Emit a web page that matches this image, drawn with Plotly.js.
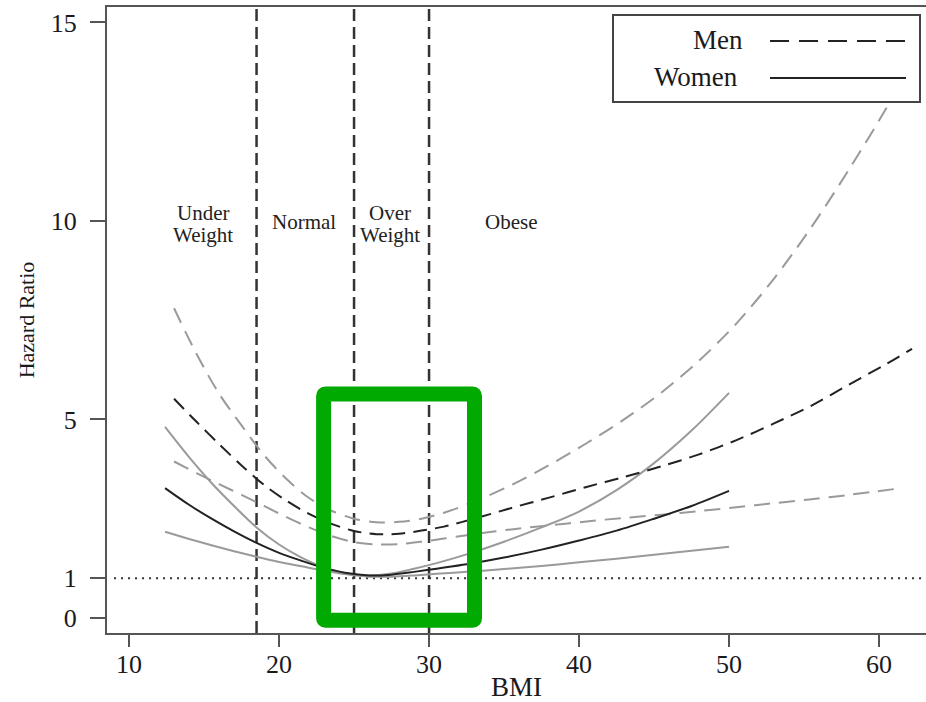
<!DOCTYPE html>
<html>
<head>
<meta charset="utf-8">
<script src="https://cdn.plot.ly/plotly-3.0.1.min.js"></script>
<style>html,body{margin:0;padding:0;background:#fff;}#chart{width:926px;height:702px;}</style>
</head>
<body>
<div id="chart"></div>
<script>
// Men: BMI grid, hazard ratio and confidence band
const bmiMen = [13, 14.5, 16, 17.5, 19, 20.5, 22, 23.5, 25, 26.5, 28, 29.5, 31, 33, 35.5, 38, 40.5, 43, 45.5, 48, 50.5, 53, 55.5, 58, 60.5, 62.2];
const menHR = [5.52, 4.94, 4.38, 3.84, 3.35, 2.95, 2.62, 2.37, 2.19, 2.11, 2.12, 2.2, 2.3, 2.5, 2.77, 3.03, 3.3, 3.55, 3.82, 4.12, 4.48, 4.9, 5.35, 5.88, 6.4, 6.78];
const menUpper = [7.8, 6.65, 5.65, 4.85, 4.1, 3.5, 3.02, 2.7, 2.5, 2.41, 2.42, 2.5, 2.65, 2.93, 3.35, 3.85, 4.4, 5.0, 5.68, 6.48, 7.42, 8.55, 9.85, 11.3, 12.85, 14.0];
const bmiMenLower = [13, 14.5, 16, 17.5, 19, 20.5, 22, 23.5, 25, 26.5, 28, 29.5, 31, 33, 35.5, 38, 40.5, 43, 45.5, 48, 50.5, 53, 55.5, 58, 61.5];
const menLower = [3.94, 3.65, 3.37, 3.1, 2.82, 2.54, 2.28, 2.06, 1.91, 1.85, 1.86, 1.92, 2.0, 2.11, 2.23, 2.33, 2.43, 2.52, 2.6, 2.69, 2.79, 2.89, 2.99, 3.1, 3.27];

// Women
const bmiWomen = [12.4, 14, 15.5, 17, 18.5, 20, 21.5, 23, 24.5, 26, 27.5, 29, 30.5, 32.5, 35, 37.5, 40, 42.5, 45, 47.5, 50];
const womenHR = [3.27, 2.85, 2.5, 2.18, 1.89, 1.64, 1.44, 1.26, 1.13, 1.07, 1.09, 1.16, 1.24, 1.35, 1.52, 1.72, 1.95, 2.2, 2.5, 2.82, 3.2];
const womenUpper = [4.81, 4.05, 3.4, 2.82, 2.28, 1.85, 1.52, 1.27, 1.12, 1.07, 1.12, 1.24, 1.38, 1.6, 1.92, 2.28, 2.68, 3.22, 3.9, 4.72, 5.67];
const womenLower = [2.17, 1.99, 1.83, 1.68, 1.54, 1.41, 1.3, 1.19, 1.1, 1.04, 1.04, 1.07, 1.11, 1.16, 1.23, 1.31, 1.4, 1.49, 1.59, 1.69, 1.79];

// BMI category cut-offs, labels, axis ticks
const cutoffs = [18.5, 25, 30];
const categoryLabels = [
  {lines: ["Under", "Weight"], x: 14.93},
  {lines: ["Normal"], x: 21.67},
  {lines: ["Over", "Weight"], x: 27.4},
  {lines: ["Obese"], x: 35.47}
];
const xTicks = [10, 20, 30, 40, 50, 60];
const yTicks = [0, 1, 5, 10, 15];
const referenceHR = 1;
const legendNames = ["Men", "Women"];

const DARK = '#222222', GRAY = '#9a9a9a';
const FONT = 'Liberation Serif, Times New Roman, serif';

function line(x, y, color, dash) {
  return {x: x, y: y, type: 'scatter', mode: 'lines', showlegend: false, hoverinfo: 'skip',
    line: {color: color, width: 2, dash: dash, shape: 'spline', smoothing: 0.9}};
}

const traces = [
  line(bmiWomen, womenUpper, GRAY, 'solid'),
  line(bmiWomen, womenLower, GRAY, 'solid'),
  line(bmiMen, menUpper, GRAY, '16px,9px'),
  line(bmiMenLower, menLower, GRAY, '16px,9px'),
  Object.assign(line(bmiWomen, womenHR, DARK, 'solid'), {name: legendNames[1]}),
  Object.assign(line(bmiMen, menHR, DARK, '14px,8px'), {name: legendNames[0]})
];

const shapes = [];
cutoffs.forEach(c => shapes.push({type: 'line', xref: 'x', yref: 'paper', x0: c, x1: c, y0: 0, y1: 1,
  line: {color: '#333', width: 2.5, dash: '12px,6px'}, layer: 'below'}));
shapes.push({type: 'line', xref: 'x', yref: 'y', x0: 9.0, x1: 63.2, y0: referenceHR, y1: referenceHR,
  line: {color: '#333', width: 2, dash: '2px,5px'}, layer: 'below'});

// highlight box
(function(){
  const x0 = 22.97, x1 = 33.03, y0 = -0.06, y1 = 5.64, rx = 0.12, ry = 0.05;
  const p = `M ${x0+rx},${y1} L ${x1-rx},${y1} Q ${x1},${y1} ${x1},${y1-ry} L ${x1},${y0+ry} Q ${x1},${y0} ${x1-rx},${y0} L ${x0+rx},${y0} Q ${x0},${y0} ${x0},${y0+ry} L ${x0},${y1-ry} Q ${x0},${y1} ${x0+rx},${y1} Z`;
  shapes.push({type: 'path', xref: 'x', yref: 'y', path: p, line: {color: '#00AA00', width: 15}, layer: 'above'});
})();

// legend box (pixel positions converted to paper coords)
const L = 107, T = 7, W = 819, H = 626;
const px = v => (v - L) / W, py = v => 1 - (v - T) / H;
shapes.push({type: 'rect', xref: 'paper', yref: 'paper', x0: px(613), x1: px(920), y0: py(102), y1: py(15),
  fillcolor: '#ffffff', line: {color: '#444', width: 2}, layer: 'above'});
shapes.push({type: 'line', xref: 'paper', yref: 'paper', x0: px(770), x1: px(906), y0: py(41), y1: py(41),
  line: {color: DARK, width: 2, dash: '19px,10px'}, layer: 'above'});
shapes.push({type: 'line', xref: 'paper', yref: 'paper', x0: px(770), x1: px(906), y0: py(78), y1: py(78),
  line: {color: DARK, width: 2}, layer: 'above'});

const annotations = [];
annotations.push({xref: 'paper', yref: 'paper', x: px(745), y: py(40), xanchor: 'right', yanchor: 'middle',
  text: legendNames[0], showarrow: false, font: {family: FONT, size: 27, color: '#1a1a1a'}});
annotations.push({xref: 'paper', yref: 'paper', x: px(740), y: py(77), xanchor: 'right', yanchor: 'middle',
  text: legendNames[1], showarrow: false, font: {family: FONT, size: 27, color: '#1a1a1a'}});

const yOf = pyv => (618 - pyv) / 39.7;
categoryLabels.forEach(c => {
  if (c.lines.length === 2) {
    annotations.push({x: c.x, y: yOf(213), text: c.lines[0], showarrow: false, xanchor: 'center', yanchor: 'middle',
      font: {family: FONT, size: 21, color: '#222'}});
    annotations.push({x: c.x, y: yOf(235), text: c.lines[1], showarrow: false, xanchor: 'center', yanchor: 'middle',
      font: {family: FONT, size: 21, color: '#222'}});
  } else {
    annotations.push({x: c.x, y: yOf(222), text: c.lines[0], showarrow: false, xanchor: 'center', yanchor: 'middle',
      font: {family: FONT, size: 21, color: '#222'}});
  }
});

const layout = {
  width: 926, height: 702,
  margin: {l: 107, r: 0, t: 7, b: 69},
  paper_bgcolor: '#fff', plot_bgcolor: '#fff',
  font: {family: FONT, color: '#1a1a1a'},
  showlegend: false,
  xaxis: {
    range: [8.53, 63.13], tickvals: xTicks, ticktext: xTicks.map(String),
    ticks: 'outside', ticklen: 12, tickwidth: 2, tickcolor: '#555',
    showline: true, linecolor: '#555', linewidth: 2, mirror: true,
    showgrid: false, zeroline: false,
    tickfont: {family: FONT, size: 26, color: '#1a1a1a'},
    ticklabelstandoff: -5,
    title: {text: 'BMI', font: {family: FONT, size: 27, color: '#1a1a1a'}, standoff: 6}
  },
  yaxis: {
    range: [-0.38, 15.39], tickvals: yTicks, ticktext: yTicks.map(String),
    ticks: 'outside', ticklen: 15, tickwidth: 2, tickcolor: '#555',
    showline: true, linecolor: '#555', linewidth: 2, mirror: false,
    showgrid: false, zeroline: false,
    tickfont: {family: FONT, size: 26, color: '#1a1a1a'},
    ticklabelstandoff: 8,
    title: {text: 'Hazard Ratio', font: {family: FONT, size: 22, color: '#1a1a1a'}, standoff: 10}
  },
  shapes: shapes,
  annotations: annotations
};

Plotly.newPlot('chart', traces, layout, {staticPlot: true, displayModeBar: false});
</script>
</body>
</html>
